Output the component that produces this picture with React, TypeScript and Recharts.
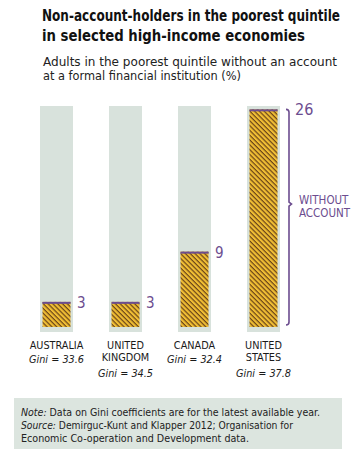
import { BarChart, Bar, XAxis, YAxis, LabelList } from 'recharts'

const COUNTRIES = ['AUSTRALIA', 'UNITED KINGDOM', 'CANADA', 'UNITED STATES']
const NAME_LINES = [['AUSTRALIA'], ['UNITED', 'KINGDOM'], ['CANADA'], ['UNITED', 'STATES']]
const GINI = ['33.6', '34.5', '32.4', '37.8']
const WITHOUT_ACCOUNT = [3, 3, 9, 26]

const TITLE = ['Non-account-holders in the poorest quintile', 'in selected high-income economies']
const SUBTITLE = ['Adults in the poorest quintile without an account', 'at a formal financial institution (%)']

const data = COUNTRIES.map((c, i) => ({ country: c, value: WITHOUT_ACCOUNT[i] }))

const PURPLE = '#6c4d8f'
const GRAY = '#d8e2dc'
const GOLD = '#f0be34'
const BROWN = '#6a4418'
const NOTE_BG = '#dce5df'
const NARROW = "'Liberation Sans Narrow', 'DejaVu Sans Condensed', 'Liberation Sans', sans-serif"
const TITLE_SX = 0.866

function HatchBar(props: any) {
  const { x, y, width, height } = props
  if (!height) return null
  const ix = x + 2.5
  const iw = width - 5
  return (
    <g>
      <rect x={ix} y={y} width={iw} height={height} fill="url(#hatch)" />
      <rect x={ix} y={y} width={iw} height={2} fill={PURPLE} />
    </g>
  )
}

function ValueLabel(props: any) {
  const { x, y, width, height, value, index } = props
  const last = index === WITHOUT_ACCOUNT.length - 1
  if (!last) {
    return (
      <text x={x + width + 4} y={y + 6} fill={PURPLE} fontFamily={NARROW} fontSize={15}>
        {value}
      </text>
    )
  }
  // bracket spanning the tallest bar
  const bx = x + width + 9
  const top = y
  const bot = y + height - 2
  const mid = y + height * 0.435
  return (
    <g>
      <path
        d={`M${bx - 3},${top} Q${bx},${top} ${bx},${top + 3} L${bx},${mid - 2} L${bx + 2.5},${mid} L${bx},${mid + 2} L${bx},${bot - 3} Q${bx},${bot} ${bx - 3},${bot}`}
        fill="none"
        stroke={PURPLE}
        strokeWidth={1.6}
      />
      <text x={bx + 6} y={top + 6} fill={PURPLE} fontFamily={NARROW} fontSize={16}>
        {value}
      </text>
      <text x={bx + 10} y={mid} fill={PURPLE} fontFamily={NARROW} fontSize={11.5}>
        WITHOUT
      </text>
      <text x={bx + 10} y={mid + 12.7} fill={PURPLE} fontFamily={NARROW} fontSize={11.5}>
        ACCOUNT
      </text>
    </g>
  )
}

function CountryTick(props: any) {
  const { x, y, payload } = props
  const i = COUNTRIES.indexOf(payload.value)
  const lines = NAME_LINES[i] || []
  return (
    <g fontFamily={NARROW} fontSize={10.8} textAnchor="middle" fill="#1a1a1a">
      {lines.map((l, k) => (
        <text key={k} x={x} y={y + 17 + k * 12.2}>{l}</text>
      ))}
      <text x={x} y={y + 31 + (lines.length - 1) * 13.5} fontStyle="italic">
        Gini = {GINI[i]}
      </text>
    </g>
  )
}

export default function App() {
  return (
    <div style={{ position: 'absolute', left: 0, top: 0, width: 354, height: 459, background: '#fff' }}>
      <svg width={354} height={459} style={{ position: 'absolute', left: 0, top: 0 }}>
        <g transform={`scale(${TITLE_SX},1)`} fontFamily={NARROW} fontWeight="bold" fontSize={15.5} fill="#111">
          <text x={42 / TITLE_SX} y={21} textLength={298 / TITLE_SX} lengthAdjust="spacingAndGlyphs">{TITLE[0]}</text>
          <text x={42 / TITLE_SX} y={41} textLength={263 / TITLE_SX} lengthAdjust="spacingAndGlyphs">{TITLE[1]}</text>
        </g>
        <g fontFamily={NARROW} fontSize={12.5} fill="#222">
          <text x={43} y={66} textLength={294} lengthAdjust="spacingAndGlyphs">{SUBTITLE[0]}</text>
          <text x={43} y={79.5} textLength={198} lengthAdjust="spacingAndGlyphs">{SUBTITLE[1]}</text>
        </g>
        <rect x={14} y={398} width={328} height={51} fill={NOTE_BG} />
        <g fontFamily={NARROW} fontSize={11} fill="#222">
          <text x={21} y={416} textLength={299} lengthAdjust="spacingAndGlyphs">
            <tspan fontStyle="italic">Note:</tspan> Data on Gini coefficients are for the latest available year.
          </text>
          <text x={21} y={429} textLength={272} lengthAdjust="spacingAndGlyphs">
            <tspan fontStyle="italic">Source:</tspan> Demirguc-Kunt and Klapper 2012; Organisation for
          </text>
          <text x={21} y={442} textLength={228} lengthAdjust="spacingAndGlyphs">
            Economic Co-operation and Development data.
          </text>
        </g>
      </svg>
      <div style={{ position: 'absolute', left: 0, top: 0 }}>
        <BarChart width={354} height={459} data={data} margin={{ top: 106, right: 56, bottom: 97, left: 22 }}>
          <defs>
            <pattern id="hatch" patternUnits="userSpaceOnUse" width={3.4} height={3.4} patternTransform="rotate(45)">
              <rect width={3.4} height={3.4} fill={GOLD} />
              <rect width={3.4} height={1.2} fill={BROWN} />
            </pattern>
          </defs>
          <XAxis
            dataKey="country"
            height={30}
            axisLine={false}
            tickLine={false}
            tickSize={0}
            tickMargin={0}
            interval={0}
            tick={<CountryTick />}
          />
          <YAxis hide width={0} type="number" domain={[-0.6, 26.4]} allowDataOverflow />
          <Bar dataKey="value" barSize={33} background={{ fill: GRAY }} shape={<HatchBar />} isAnimationActive={false}>
            <LabelList dataKey="value" content={<ValueLabel />} />
          </Bar>
        </BarChart>
      </div>
    </div>
  )
}
